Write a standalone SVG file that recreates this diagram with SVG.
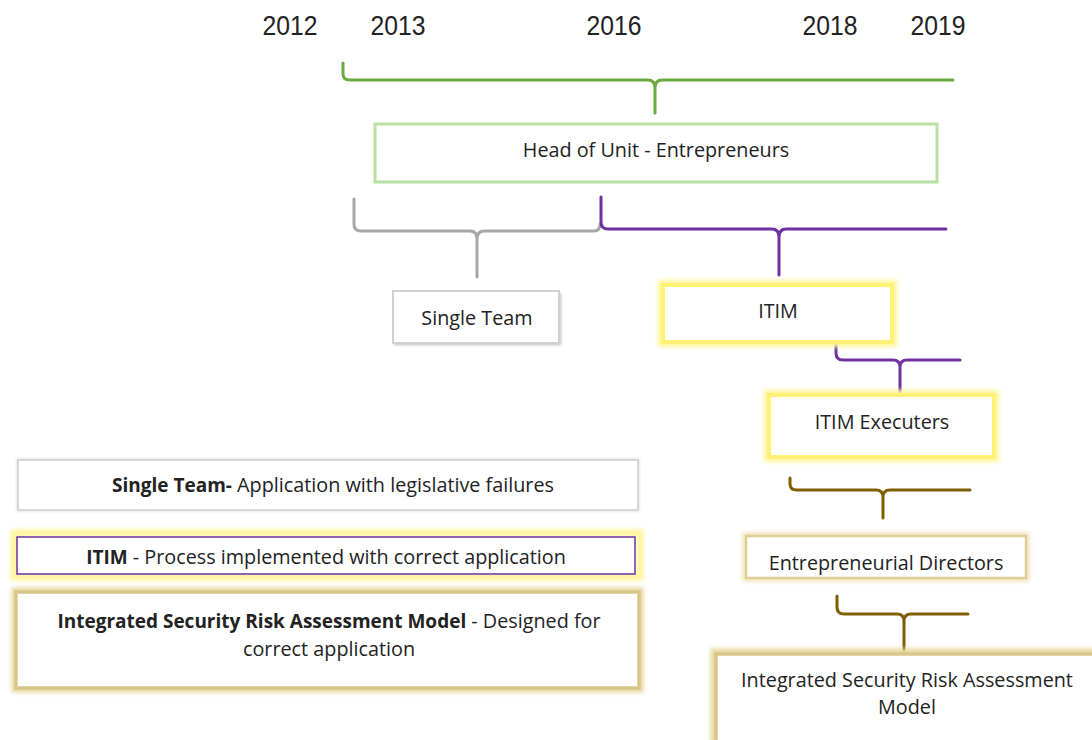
<svg xmlns="http://www.w3.org/2000/svg" width="1092" height="740" viewBox="0 0 1092 740">
<style>
  text { font-family: "Open Sans", "Liberation Sans", Arial, sans-serif; fill: #222222; text-anchor: middle; }
  .yr { font-family: "Liberation Sans", Arial, sans-serif; font-size: 28px; }
  .lbl { font-size: 19.8px; }
  .b { font-weight: bold; font-size: 19px; }
  .br { fill: none; stroke-width: 3; stroke-linecap: round; stroke-linejoin: round; }
  .green { stroke: #6aab3f; }
  .gray { stroke: #a6a6a6; }
  .purple { stroke: #7030a0; }
  .olive { stroke: #7f6000; }
  .box { fill: #ffffff; }
</style>
<defs>
  <filter id="glow" x="-10%" y="-30%" width="120%" height="160%">
    <feGaussianBlur stdDeviation="2"/>
  </filter>
  <filter id="shadow" x="-10%" y="-20%" width="120%" height="140%">
    <feGaussianBlur stdDeviation="1.5"/>
  </filter>
</defs>
<rect width="1092" height="740" fill="#ffffff"/>

<g id="years">
  <text class="yr" x="290" y="35" textLength="55" lengthAdjust="spacingAndGlyphs">2012</text>
  <text class="yr" x="398" y="35" textLength="55" lengthAdjust="spacingAndGlyphs">2013</text>
  <text class="yr" x="614" y="35" textLength="55" lengthAdjust="spacingAndGlyphs">2016</text>
  <text class="yr" x="830" y="35" textLength="55" lengthAdjust="spacingAndGlyphs">2018</text>
  <text class="yr" x="938" y="35" textLength="55" lengthAdjust="spacingAndGlyphs">2019</text>
</g>

<g id="connectors">
  <path class="br green" d="M343,63 V74 Q343,80 350,80 H648 Q655,80 655,88 V113 M655,88 Q655,80 662,80 H953"/>
  <path class="br gray" d="M354,199 V224 Q354,231 361,231 H470 Q477,231 477,239 V277 M477,239 Q477,231 484,231 H594 Q600,231 600,224"/>
  <path class="br purple" d="M601,197 V222 Q601,229 608,229 H772 Q779,229 779,237 V275 M779,237 Q779,229 786,229 H946"/>
  <path class="br purple" d="M836,341 V353 Q836,360 843,360 H893 Q900,360 900,367 V394 M900,367 Q900,360 907,360 H960"/>
  <path class="br olive" d="M790,478 V484 Q790,490 797,490 H876 Q883,490 883,497 V518 M883,497 Q883,490 890,490 H970"/>
  <path class="br olive" d="M837,596 V607 Q837,614 844,614 H897 Q904,614 904,621 V650 M904,621 Q904,614 911,614 H968"/>
</g>

<g id="head-of-unit">
  <rect class="box" x="375" y="124" width="562" height="58" stroke="#b8e2a4" stroke-width="3"/>
  <text class="lbl" x="656" y="157">Head of Unit - Entrepreneurs</text>
</g>

<g id="single-team">
  <rect x="394" y="293" width="167" height="52" fill="#bfbfbf" filter="url(#shadow)"/>
  <rect class="box" x="393" y="291" width="166" height="52" stroke="#d0d0d0" stroke-width="2"/>
  <text class="lbl" x="477" y="325">Single Team</text>
</g>

<g id="itim">
  <rect x="662" y="284" width="231" height="59" fill="none" stroke="#fff59a" stroke-width="8" filter="url(#glow)"/>
  <rect class="box" x="663" y="285" width="229" height="57" stroke="#fff176" stroke-width="4"/>
  <text class="lbl" x="778" y="318">ITIM</text>
</g>

<g id="itim-executers">
  <rect x="768" y="394" width="227" height="64" fill="none" stroke="#fff59a" stroke-width="8" filter="url(#glow)"/>
  <rect class="box" x="769" y="395" width="225" height="62" stroke="#fff176" stroke-width="4"/>
  <text class="lbl" x="882" y="429">ITIM Executers</text>
</g>

<g id="entrepreneurial-directors">
  <rect x="745" y="535" width="282" height="44" fill="none" stroke="#efe3b8" stroke-width="5" filter="url(#glow)"/>
  <rect class="box" x="746" y="536" width="280" height="42" stroke="#e0cf95" stroke-width="2.5"/>
  <text class="lbl" x="886" y="570">Entrepreneurial Directors</text>
</g>

<g id="isram">
  <rect x="714" y="652" width="390" height="92" fill="none" stroke="#e6d79e" stroke-width="7" filter="url(#glow)"/>
  <rect class="box" x="716" y="654" width="390" height="90" stroke="#d9c68a" stroke-width="3.5"/>
  <text class="lbl" x="907" y="687">Integrated Security Risk Assessment</text>
  <text class="lbl" x="907" y="714">Model</text>
</g>

<g id="legend-single-team">
  <rect x="17" y="459" width="622" height="52" fill="#cfcfcf" filter="url(#shadow)"/>
  <rect class="box" x="18" y="460" width="620" height="50" stroke="#d6d6d6" stroke-width="2"/>
  <text class="lbl" x="333" y="492"><tspan class="b">Single Team-</tspan> Application with legislative failures</text>
</g>

<g id="legend-itim">
  <rect x="14" y="533" width="626" height="44" fill="none" stroke="#fff59a" stroke-width="7" filter="url(#glow)"/>
  <rect class="box" x="17" y="537" width="618" height="37" stroke="#7030a0" stroke-width="1.5"/>
  <text class="lbl" x="326" y="564"><tspan class="b">ITIM</tspan> - Process implemented with correct application</text>
</g>

<g id="legend-isram">
  <rect x="15" y="591" width="625" height="98" fill="none" stroke="#e6d79e" stroke-width="7" filter="url(#glow)"/>
  <rect class="box" x="16" y="592" width="623" height="96" stroke="#d9c68a" stroke-width="3.5"/>
  <text class="lbl" x="329" y="628"><tspan class="b">Integrated Security Risk Assessment Model</tspan> - Designed for</text>
  <text class="lbl" x="329" y="656">correct application</text>
</g>
</svg>
